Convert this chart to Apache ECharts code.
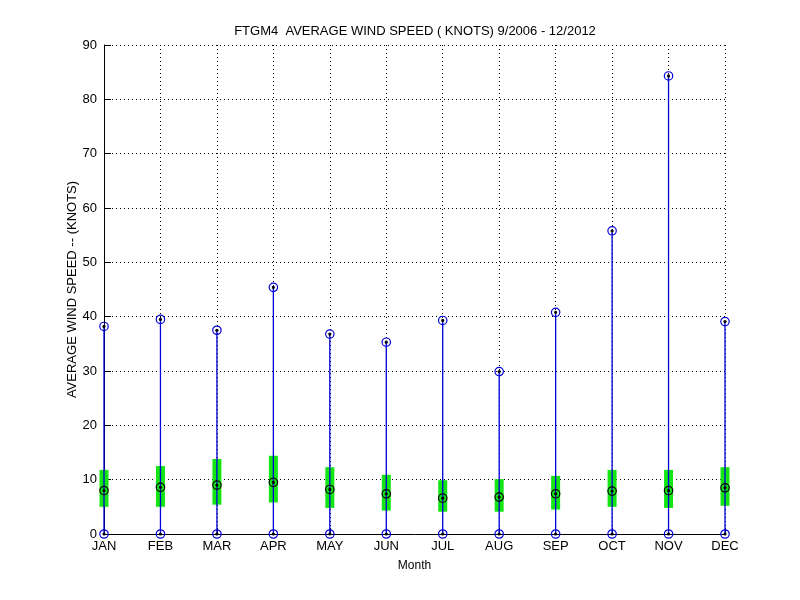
<!DOCTYPE html>
<html>
<head>
<meta charset="utf-8">
<script src="https://cdn.jsdelivr.net/npm/echarts@6/dist/echarts.min.js"></script>
<style>html,body{margin:0;padding:0;background:#fff}#c{width:800px;height:600px}</style>
</head>
<body>
<div id="c"></div>
<script>
const months = ['JAN','FEB','MAR','APR','MAY','JUN','JUL','AUG','SEP','OCT','NOV','DEC'];
const minVals = [0,0,0,0,0,0,0,0,0,0,0,0];
const maxVals = [38.2, 39.5, 37.5, 45.4, 36.8, 35.3, 39.3, 29.9, 40.8, 55.8, 84.3, 39.1];
const q1Vals = [5.0, 5.0, 5.4, 5.8, 4.8, 4.3, 4.1, 4.1, 4.5, 5.0, 4.8, 5.2];
const q3Vals = [11.8, 12.5, 13.8, 14.4, 12.3, 10.9, 9.9, 10.1, 10.7, 11.8, 11.8, 12.3];
const medVals = [8.0, 8.6, 9.0, 9.5, 8.2, 7.4, 6.6, 6.8, 7.4, 7.9, 8.0, 8.5];
const yTicks = [0,10,20,30,40,50,60,70,80,90];

const data = months.map((m, i) => [i, minVals[i], maxVals[i], q1Vals[i], q3Vals[i], medVals[i]]);
const FONT = 'Liberation Sans';
const BLUE = '#0000d8';

function renderItem(params, api) {
  const i = api.value(0);
  const pMin = api.coord([i, api.value(1)]);
  const pMax = api.coord([i, api.value(2)]);
  const pQ1 = api.coord([i, api.value(3)]);
  const pQ3 = api.coord([i, api.value(4)]);
  const pMed = api.coord([i, api.value(5)]);
  const x = pMin[0];
  const hw = 4.5;
  const ring = (p, color) => ({
    type: 'circle', shape: {cx: x, cy: p[1], r: 4.2},
    style: {fill: 'rgba(0,0,0,0)', stroke: color, lineWidth: 1.2}
  });
  const dot = (p) => ({
    type: 'circle', shape: {cx: x, cy: p[1], r: 1.6},
    style: {fill: '#000'}
  });
  return {
    type: 'group',
    children: [
      {type: 'rect', shape: {x: x - hw, y: pQ3[1], width: hw * 2, height: pQ1[1] - pQ3[1]},
       style: {fill: '#14e614'}},
      {type: 'line', shape: {x1: x, y1: pMin[1], x2: x, y2: pMax[1]},
       style: {stroke: BLUE, lineWidth: 1.3}},
      ring(pMin, BLUE), dot(pMin),
      ring(pMax, BLUE), dot(pMax),
      ring(pMed, '#000'), dot(pMed)
    ]
  };
}

const chart = echarts.init(document.getElementById('c'), null, {renderer: 'canvas'});
chart.setOption({
  backgroundColor: '#fff',
  animation: false,
  title: {
    text: 'FTGM4  AVERAGE WIND SPEED ( KNOTS) 9/2006 - 12/2012',
    left: 410, top: 20, textAlign: 'center',
    textStyle: {fontFamily: FONT, fontSize: 13, fontWeight: 'normal', color: '#000'}
  },
  grid: {left: 104, right: 75, top: 45, bottom: 66, containLabel: false},
  xAxis: {
    type: 'category',
    data: months,
    boundaryGap: false,
    name: 'Month',
    nameLocation: 'middle',
    nameGap: 26,
    nameMoveOverlap: false,
    nameTextStyle: {fontFamily: FONT, fontSize: 12, color: '#000'},
    axisLine: {show: true, lineStyle: {color: '#000', width: 1}},
    axisTick: {show: true, inside: true, length: 6, alignWithLabel: true, lineStyle: {color: '#000'}},
    axisLabel: {fontFamily: FONT, fontSize: 13, color: '#000', margin: 6, interval: 0},
    splitLine: {show: true, interval: 0, lineStyle: {color: '#000', type: [1, 3], width: 1}}
  },
  yAxis: {
    type: 'value',
    min: 0, max: 90, interval: 10,
    name: 'AVERAGE WIND SPEED -- (KNOTS)',
    nameLocation: 'middle',
    nameGap: 25,
    nameMoveOverlap: false,
    nameRotate: 90,
    nameTextStyle: {fontFamily: FONT, fontSize: 13, color: '#000'},
    axisLine: {show: true, lineStyle: {color: '#000', width: 1}},
    axisTick: {show: true, inside: true, length: 7, lineStyle: {color: '#000'}},
    axisLabel: {fontFamily: FONT, fontSize: 13, color: '#000', margin: 7,
      formatter: v => yTicks.includes(v) ? String(v) : ''},
    splitLine: {show: true, lineStyle: {color: '#000', type: [1, 3], width: 1}}
  },
  series: [{
    type: 'custom',
    renderItem: renderItem,
    clip: false,
    encode: {x: 0, y: [1, 2, 3, 4, 5]},
    data: data,
    z: 10
  }]
});
</script>
</body>
</html>
